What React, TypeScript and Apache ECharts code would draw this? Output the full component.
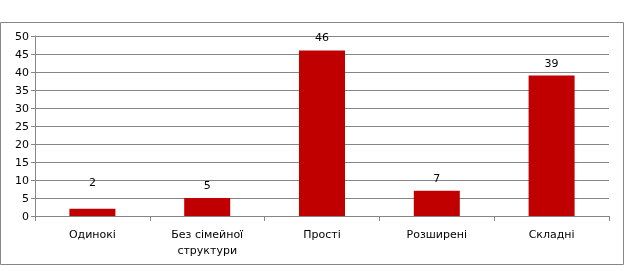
import React, { useEffect, useRef } from "react";
import * as echarts from "echarts";

const categories = ["Одинокі", "Без сімейної\nструктури", "Прості", "Розширені", "Складні"];
const values = [2, 5, 46, 7, 39];
const yTicks = { min: 0, max: 50, interval: 5 };

export default function App() {
  const ref = useRef<HTMLDivElement>(null);
  useEffect(() => {
    if (!ref.current) return;
    const chart = echarts.init(ref.current, undefined, { renderer: "svg" });
    const font = "DejaVu Sans";
    chart.setOption({
      animation: false,
      textStyle: { fontFamily: font },
      graphic: [
        {
          type: "rect",
          shape: { x: 0.5, y: 22.5, width: 623, height: 242 },
          style: { fill: "none", stroke: "#868686", lineWidth: 1 },
          silent: true,
        },
      ],
      grid: { left: 35, right: 18, top: 36, bottom: 55 },
      xAxis: {
        type: "category",
        data: categories,
        axisLine: { lineStyle: { color: "#868686" } },
        axisTick: { show: true, length: 5, lineStyle: { color: "#868686" } },
        axisLabel: {
          color: "#000",
          fontFamily: font,
          fontSize: 11,
          margin: 10,
          lineHeight: 16,
          interval: 0,
        },
      },
      yAxis: {
        type: "value",
        min: yTicks.min,
        max: yTicks.max,
        interval: yTicks.interval,
        axisLine: { show: true, lineStyle: { color: "#868686" } },
        axisTick: { show: true, length: 4, lineStyle: { color: "#868686" } },
        axisLabel: { color: "#000", fontFamily: font, fontSize: 11, margin: 6 },
        splitLine: { lineStyle: { color: "#868686" } },
      },
      series: [
        {
          type: "bar",
          data: values.map((v, i) =>
            i === 0 ? { value: v, label: { offset: [0, -14] } } : v
          ),
          barWidth: 46,
          itemStyle: { color: "#C00000" },
          label: {
            show: true,
            position: "top",
            distance: 7,
            color: "#000",
            fontFamily: font,
            fontSize: 11,
          },
        },
      ],
    });
    return () => chart.dispose();
  }, []);
  return (
    <div
      ref={ref}
      style={{ position: "fixed", left: 0, top: 0, width: 627, height: 271 }}
    />
  );
}
